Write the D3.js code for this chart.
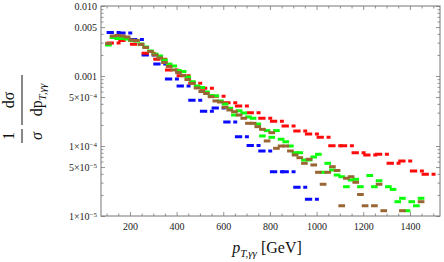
<!DOCTYPE html>
<html>
<head>
<meta charset="utf-8">
<script src="https://cdn.jsdelivr.net/npm/d3@7"></script>
<style>
  body { margin: 0; background: #fff; }
  svg text { font-family: "Liberation Serif", "DejaVu Serif", serif; }
</style>
</head>
<body>
<div id="chart"></div>
<script>
// --- data -----------------------------------------------------------------

// 50 GeV bins (blue, red)
var coarseBins = [100,150,200,250,300,350,400,450,500,550,600,650,700,750,
                  800,850,900,950,1000,1050,1100,1150,1200,1250,1300,1350,1400,1450];
// 20 GeV bins (green, brown)
var fineBins = [100,120,140,160,180,200,220,240,260,280,300,320,340,360,380,400,420,440,460,480,
                500,520,540,560,580,600,620,640,660,680,700,720,740,760,780,800,820,840,860,880,
                900,920,940,960,980,1000,1020,1040,1060,1080,1100,1120,1140,1160,1180,1200,1220,1240,1260,1280,
                1300,1320,1340,1360,1380,1400,1420,1440,1460,1480];

var blueVals = [0.00418,0.00411,0.00332,0.00200,0.00148,0.000906,0.000720,0.000450,0.000313,0.000349,
                0.000220,0.000136,0.000102,0.0000849,0.0000430,0.0000430,0.0000257,0.0000173];

var redVals = [0.00296,0.00321,0.00285,0.00212,0.00173,0.00122,0.00101,0.000787,0.000667,0.000513,
               0.000416,0.000373,0.000299,0.000249,0.000225,0.000193,0.000164,0.000148,0.000133,0.000101,
               0.000101,0.0000802,0.0000744,0.0000761,0.0000566,0.0000611,0.0000440,0.0000394];

var greenVals = [0.00277,0.00355,0.00343,0.00343,0.00338,0.00321,0.00316,0.00286,0.00260,0.00228,
                 0.00206,0.00193,0.00169,0.00148,0.00139,0.00120,0.00116,0.000968,0.000829,0.000720,
                 0.000685,0.000591,0.000526,0.000520,0.000440,0.000398,0.000346,0.000277,0.000319,0.000296,
                 0.000260,0.000249,0.000206,0.000139,0.000166,0.000133,0.000166,0.000125,0.000115,0.000100,
                 0.0000802,0.0000802,0.0000631,0.0000631,0.0000697,0.0000761,0.0000421,0.0000566,0.0000454,0.0000385,
                 0.0000364,0.0000262,0.0000327,0.0000334,0.0000262,null,0.0000379,0.0000262,0.0000319,null,
                 0.0000262,0.0000240,0.0000160,0.0000179,0.0000119,0.0000160,0.0000140,0.0000179,null,null];

var brownVals = [0.00291,0.00373,0.00379,0.00373,0.00361,0.00327,0.00321,0.00282,0.00255,0.00224,
                 0.00200,0.00181,0.00156,0.00137,0.00122,0.00112,0.00102,0.000891,0.000787,0.000674,
                 0.000601,0.000562,0.000506,0.000440,0.000425,0.000357,0.000327,0.000309,0.000277,0.000249,
                 0.000211,0.000211,0.000189,0.000173,0.000118,0.000155,0.0000927,0.000100,0.000100,0.0000849,
                 0.0000744,0.0000681,0.0000566,0.0000646,0.0000536,0.0000421,0.0000284,0.0000421,0.0000506,0.0000447,
                 0.0000140,0.0000346,0.0000364,0.0000303,0.0000203,0.0000140,null,0.0000140,0.0000284,0.0000119,
                 null,null,null,0.0000119,null,null,null,0.0000160,null,null];

var xMajorTicks = [200,400,600,800,1000,1200,1400];
var yLabelTicks = [0.01,0.005,0.001,5e-4,1e-4,5e-5,1e-5];
var yTickLabels = ["0.010","0.005","0.001","5×10^−4","1×10^−4","5×10^−5","1×10^−5"];

// --- layout ----------------------------------------------------------------
var W = 444, H = 262;
var mLeft = 101, mRight = 440, mTop = 6, mBottom = 216;

var svg = d3.select("#chart").append("svg")
    .attr("width", W).attr("height", H);

var x = d3.scaleLinear().domain([76, 1529]).range([mLeft, mRight]);
var y = d3.scaleLog().domain([1e-5, 1e-2]).range([mBottom, mTop]);

var frameColor = "#777";

// minor ticks
var xMinor = d3.range(100, 1501, 50).filter(function(d){ return xMajorTicks.indexOf(d) < 0; });
var yMinor = [];
[1e-5,1e-4,1e-3].forEach(function(dec){
    [2,3,4,6,7,8,9].forEach(function(m){ yMinor.push(m*dec); });
});

function styleAxis(g) {
    g.select(".domain").remove();
    g.selectAll("line").attr("stroke", frameColor).attr("stroke-width", 0.8);
    g.selectAll("text").attr("fill", "#222").attr("font-size", 10)
        .attr("font-family", "Liberation Serif, serif");
}

// bottom
svg.append("g").attr("transform", "translate(0," + mBottom + ")")
    .call(d3.axisBottom(x).tickValues(xMajorTicks).tickSize(-4).tickPadding(7).tickFormat(d3.format("d")))
    .call(styleAxis);
svg.append("g").attr("transform", "translate(0," + mBottom + ")")
    .call(d3.axisBottom(x).tickValues(xMinor).tickSize(-2.5).tickFormat(""))
    .call(styleAxis);
// top
svg.append("g").attr("transform", "translate(0," + mTop + ")")
    .call(d3.axisTop(x).tickValues(xMajorTicks).tickSize(-4).tickFormat(""))
    .call(styleAxis);
svg.append("g").attr("transform", "translate(0," + mTop + ")")
    .call(d3.axisTop(x).tickValues(xMinor).tickSize(-2.5).tickFormat(""))
    .call(styleAxis);

// left
var yAxisG = svg.append("g").attr("transform", "translate(" + mLeft + ",0)")
    .call(d3.axisLeft(y).tickValues(yLabelTicks).tickSize(-4).tickPadding(4).tickFormat(function(){ return ""; }))
    .call(styleAxis);
yAxisG.selectAll(".tick text").each(function(d, i) {
    var parts = yTickLabels[i].split("^");
    var t = d3.select(this);
    t.append("tspan").text(parts[0]);
    if (parts.length > 1) {
        t.append("tspan").attr("dy", "-0.45em").attr("font-size", 7).text(parts[1]);
    }
});
svg.append("g").attr("transform", "translate(" + mLeft + ",0)")
    .call(d3.axisLeft(y).tickValues(yMinor).tickSize(-2.5).tickFormat(""))
    .call(styleAxis);
// right
svg.append("g").attr("transform", "translate(" + mRight + ",0)")
    .call(d3.axisRight(y).tickValues(yLabelTicks).tickSize(-4).tickFormat(""))
    .call(styleAxis);
svg.append("g").attr("transform", "translate(" + mRight + ",0)")
    .call(d3.axisRight(y).tickValues(yMinor).tickSize(-2.5).tickFormat(""))
    .call(styleAxis);

// frame
svg.append("rect")
    .attr("x", mLeft).attr("y", mTop)
    .attr("width", mRight - mLeft).attr("height", mBottom - mTop)
    .attr("fill", "none").attr("stroke", frameColor).attr("stroke-width", 1);

// --- histograms --------------------------------------------------------------
svg.append("clipPath").attr("id", "clip")
  .append("rect").attr("x", mLeft).attr("y", mTop)
  .attr("width", mRight - mLeft).attr("height", mBottom - mTop);

var plot = svg.append("g").attr("clip-path", "url(#clip)");

function drawHist(bins, vals, width, color, dashed) {
    var data = bins.map(function(b, i){ return {lo: b, hi: b + width, v: vals[i]}; })
        .filter(function(d){ return d.v != null; });
    var seg = plot.append("g").selectAll("line").data(data).enter().append("line")
        .attr("y1", function(d){ return y(d.v); })
        .attr("y2", function(d){ return y(d.v); })
        .attr("stroke", color)
        .attr("stroke-width", 3);
    if (dashed) {
        seg.attr("x1", function(d){ return x(d.lo); })
           .attr("x2", function(d){ return x(d.hi) + 2.3; })
           .attr("stroke-dasharray", "7.3,2.7,4,10");
    } else {
        seg.attr("x1", function(d){ return x(d.lo); })
           .attr("x2", function(d){ return x(d.hi) - 1; })
           .attr("stroke-linecap", "square");
    }
}

drawHist(coarseBins, blueVals, 50, "#0a0aff", true);
drawHist(coarseBins, redVals, 50, "#ff0a0a", true);
drawHist(fineBins, greenVals, 20, "#0aff0a", false);
drawHist(fineBins, brownVals, 20, "#996633", false);

// --- axis titles -------------------------------------------------------------
var xt = svg.append("text")
    .attr("x", 267).attr("y", 253)
    .attr("text-anchor", "middle")
    .attr("font-size", 16).attr("fill", "#111");
xt.append("tspan").attr("font-style", "italic").text("p");
xt.append("tspan").attr("font-style", "italic").attr("font-size", 11).attr("dy", 4).text("T,γγ");
xt.append("tspan").attr("dy", -4).text(" [GeV]");

var yl = svg.append("g").attr("transform", "translate(22,110) rotate(-90)")
    .attr("fill", "#111");
// 1 / sigma
yl.append("text").attr("x", -26).attr("y", -8).attr("text-anchor", "middle")
    .attr("font-size", 16).text("1");
yl.append("line").attr("x1", -33).attr("x2", -19).attr("y1", 0).attr("y2", 0)
    .attr("stroke", "#111").attr("stroke-width", 1);
yl.append("text").attr("x", -26).attr("y", 20).attr("text-anchor", "middle")
    .attr("font-size", 16).attr("font-style", "italic").text("σ");
// d sigma / d p_T,gg
yl.append("text").attr("x", 10).attr("y", -8).attr("text-anchor", "middle")
    .attr("font-size", 16).text("dσ");
yl.append("line").attr("x1", -15).attr("x2", 35).attr("y1", 0).attr("y2", 0)
    .attr("stroke", "#111").attr("stroke-width", 1);
var den = yl.append("text").attr("x", 10).attr("y", 20).attr("text-anchor", "middle")
    .attr("font-size", 16);
den.append("tspan").text("dp");
den.append("tspan").attr("font-style", "italic").attr("font-size", 11).attr("dy", 4).text("T,γγ");
</script>
</body>
</html>
